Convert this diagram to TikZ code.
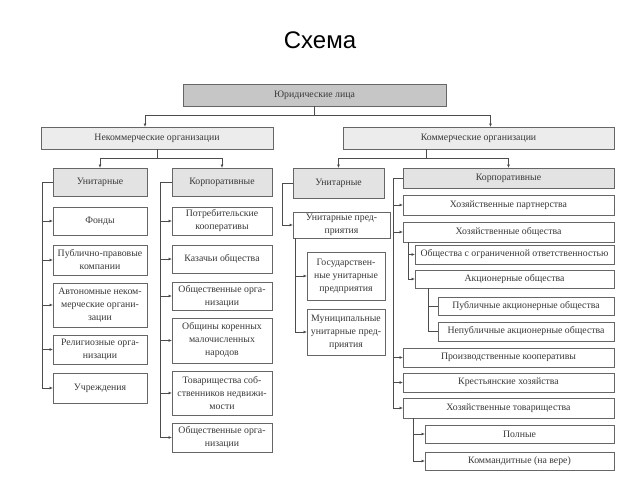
\documentclass[tikz,border=0pt]{standalone}
\usepackage{fontspec}
\setmainfont{Liberation Serif}
\setsansfont{Liberation Sans}
\usetikzlibrary{arrows.meta}

\begin{document}
\begin{tikzpicture}[x=1pt, y=-1pt,
    box/.style={draw=gray!80!black, line width=0.8pt, inner sep=0pt, outer sep=0pt,
      align=center, text=black!78, font=\fontsize{9.8}{13}\selectfont},
    size/.style 2 args={minimum width=#1, minimum height=#2},
    rootbox/.style={box, fill=gray!45},
    groupbox/.style={box, fill=gray!15},
    kindbox/.style={box, fill=gray!22},
    itembox/.style={box, fill=white},
    link/.style={draw=black!70, line width=0.7pt},
    arr/.style={link, -{Latex[length=3.5pt, width=3pt]}}]

  \useasboundingbox (0,0) rectangle (640,480);

  \node (title) at (320,40) {\sffamily\fontsize{24}{28}\selectfont Схема};

  \node[rootbox, size={263}{22}] (root) at (314.5,95) {Юридические лица};

  \node[groupbox, size={232}{22}] (nk) at (157,138) {Некоммерческие организации};
  \node[groupbox, size={271}{22}] (kom) at (478.5,138) {Коммерческие организации};

  \node[kindbox, size={94}{28}] (nu) at (100,182) {Унитарные};
  \node[kindbox, size={100}{28}] (nc) at (222,182) {Корпоративные};
  \node[kindbox, size={91}{30}] (ku) at (338.5,183) {Унитарные};
  \node[kindbox, size={211}{20}] (kc) at (508.5,178) {Корпоративные};

  \node[itembox, size={94}{28}] (fond) at (100,221) {Фонды};
  \node[itembox, size={94}{30}] (ppk) at (100,260) {Публично-правовые\\компании};
  \node[itembox, size={94}{44}] (ano) at (100,305) {Автономные неком-\\мерческие органи-\\зации};
  \node[itembox, size={94}{29}] (rel) at (100,349.5) {Религиозные орга-\\низации};
  \node[itembox, size={94}{30}] (uch) at (100,388) {Учреждения};

  \node[itembox, size={100}{28}] (potr) at (222,221) {Потребительские\\кооперативы};
  \node[itembox, size={100}{28}] (kaz) at (222,259) {Казачьи общества};
  \node[itembox, size={100}{28}] (obsh1) at (222,296) {Общественные орга-\\низации};
  \node[itembox, size={100}{45}] (obshin) at (222,340.5) {Общины коренных\\малочисленных\\народов};
  \node[itembox, size={100}{44}] (tsn) at (222,393) {Товарищества соб-\\ственников недвижи-\\мости};
  \node[itembox, size={100}{29}] (obsh2) at (222,437.5) {Общественные орга-\\низации};

  \node[itembox, size={97}{26}] (up) at (341.5,225) {Унитарные пред-\\приятия};
  \node[itembox, size={78}{48}] (gup) at (346,276) {Государствен-\\ные унитарные\\предприятия};
  \node[itembox, size={78}{46}] (mup) at (346,332) {Муниципальные\\унитарные пред-\\приятия};

  \node[itembox, size={211}{20}] (xp) at (508.5,205) {Хозяйственные партнерства};
  \node[itembox, size={211}{20}] (xo) at (508.5,232) {Хозяйственные общества};
  \node[itembox, size={199}{19}] (ooo) at (514.5,254.5) {Общества с ограниченной ответственностью};
  \node[itembox, size={199}{18}] (ao) at (514.5,279) {Акционерные общества};
  \node[itembox, size={176}{18}] (pao) at (526,306) {Публичные акционерные общества};
  \node[itembox, size={176}{19}] (npao) at (526,331.5) {Непубличные акционерные общества};
  \node[itembox, size={211}{19}] (pkoop) at (508.5,357.5) {Производственные кооперативы};
  \node[itembox, size={211}{19}] (kfx) at (508.5,382.5) {Крестьянские хозяйства};
  \node[itembox, size={211}{20}] (xt) at (508.5,408) {Хозяйственные товарищества};
  \node[itembox, size={189}{18}] (full) at (519.5,434) {Полные};
  \node[itembox, size={189}{18}] (komm) at (519.5,461) {Коммандитные (на вере)};

  \draw[arr] (root.south) -- ++(0,9) -| ([xshift=-12pt]nk.north);
  \draw[arr] (root.south) -- ++(0,9) -| ([xshift=12pt]kom.north);
  \draw[arr] (nk.south) -- ++(0,9) -| (nu.north);
  \draw[arr] (nk.south) -- ++(0,9) -| (nc.north);
  \draw[arr] ([xshift=-52pt]kom.south) -- ++(0,9) -| (ku.north);
  \draw[arr] ([xshift=-52pt]kom.south) -- ++(0,9) -| (kc.north);

  \foreach \n in {fond,ppk,ano,rel,uch}
    \draw[arr] (nu.west) -- ++(-11,0) |- (\n.west);
  \foreach \n in {potr,kaz,obsh1,obshin,tsn,obsh2}
    \draw[arr] (nc.west) -- ++(-12,0) |- (\n.west);
  \draw[arr] (ku.west) -- ++(-11,0) |- (up.west);
  \foreach \n in {gup,mup}
    \draw[arr] ([xshift=2pt]up.south west) |- (\n.west);
  \foreach \n in {xp,xo,pkoop,kfx,xt}
    \draw[arr] (kc.west) -- ++(-10,0) |- (\n.west);
  \foreach \n in {ooo,ao}
    \draw[arr] ([xshift=5pt]xo.south west) |- (\n.west);
  \foreach \n in {pao,npao}
    \draw[link] ([xshift=13pt]ao.south west) |- (\n.west);
  \foreach \n in {full,komm}
    \draw[arr] ([xshift=10pt]xt.south west) |- (\n.west);
\end{tikzpicture}
\end{document}
